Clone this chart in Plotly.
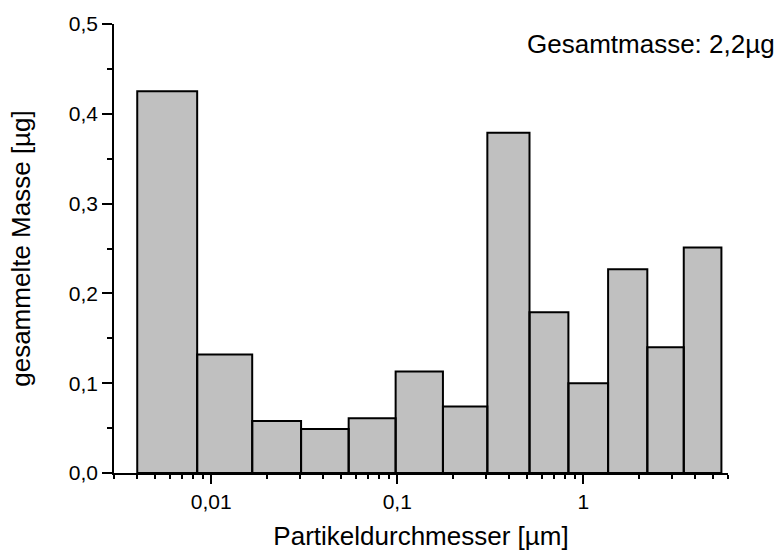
import math
import plotly.graph_objects as go

# Impactor stage boundaries (µm) and collected mass per stage (µg)
bin_edges = [0.004, 0.0084, 0.0166, 0.0304, 0.0548, 0.098, 0.176,
             0.305, 0.514, 0.832, 1.36, 2.21, 3.47, 5.53]
masses = [0.425, 0.132, 0.058, 0.049, 0.061, 0.113, 0.074,
          0.379, 0.179, 0.100, 0.227, 0.140, 0.251]

x_tickvals = [0.01, 0.1, 1]
x_ticktext = ["0,01", "0,1", "1"]
x_minor = [0.003, 0.004, 0.005, 0.006, 0.007, 0.008, 0.009,
           0.02, 0.03, 0.04, 0.05, 0.06, 0.07, 0.08, 0.09,
           0.2, 0.3, 0.4, 0.5, 0.6, 0.7, 0.8, 0.9,
           2, 3, 4, 5, 6]

total_label = "Gesamtmasse: 2,2µg"

# Build one closed rectangle per stage
xs, ys = [], []
for i, m in enumerate(masses):
    lo, hi = bin_edges[i], bin_edges[i + 1]
    xs += [lo, lo, hi, hi, lo, None]
    ys += [0, m, m, 0, 0, None]

fig = go.Figure()
fig.add_trace(go.Scatter(
    x=xs, y=ys, mode="lines", fill="toself",
    fillcolor="#c0c0c0",
    line=dict(color="black", width=2),
    hoverinfo="skip", showlegend=False,
))

font = "Liberation Sans, Arial, sans-serif"

fig.update_layout(
    width=782, height=558,
    margin=dict(l=114, r=54, t=18, b=84),
    plot_bgcolor="white", paper_bgcolor="white",
    separators=",.",
    font=dict(family=font, size=21, color="black"),
    showlegend=False,
)

fig.update_xaxes(
    type="log",
    range=[math.log10(0.003), math.log10(6)],
    tickmode="array", tickvals=x_tickvals, ticktext=x_ticktext,
    ticks="outside", ticklen=9, tickwidth=1.5, tickcolor="black",
    minor=dict(tickmode="array", tickvals=x_minor, ticks="outside",
               ticklen=4, tickwidth=1.5, tickcolor="black", showgrid=False),
    showline=True, linecolor="black", linewidth=1.5,
    showgrid=False, zeroline=False,
    tickfont=dict(size=21),
    title=dict(text="Partikeldurchmesser [µm]", font=dict(size=26), standoff=15),
)

fig.update_yaxes(
    range=[0, 0.5], dtick=0.1, tick0=0, tickformat=".1f",
    ticks="outside", ticklen=10, tickwidth=1.5, tickcolor="black",
    minor=dict(dtick=0.05, ticks="outside", ticklen=5, tickwidth=1.5,
               tickcolor="black", showgrid=False),
    showline=True, linecolor="black", linewidth=1.5,
    showgrid=False, zeroline=False,
    tickfont=dict(size=21),
    title=dict(text="gesammelte Masse [µg]", font=dict(size=26), standoff=31),
)

fig.add_annotation(
    text=total_label, xref="paper", yref="paper",
    x=1.08, y=0.955, xanchor="right", yanchor="middle",
    showarrow=False, font=dict(size=26),
)

fig.write_html("out.html")
